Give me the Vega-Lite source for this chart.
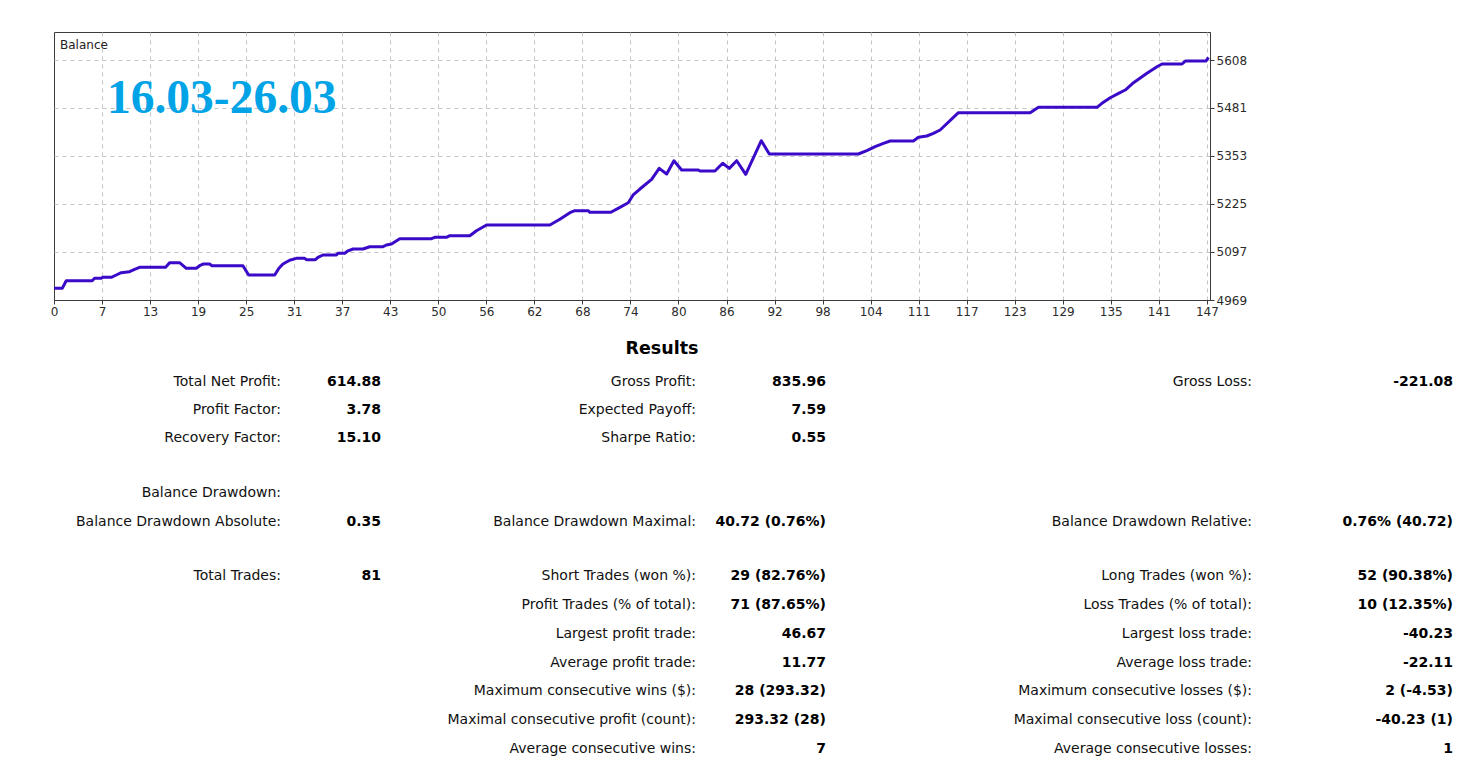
{
  "$schema": "https://vega.github.io/schema/vega-lite/v6.json",
  "width": 1156,
  "height": 268,
  "autosize": {"type": "none"},
  "padding": {"left": 54, "top": 32, "right": 272, "bottom": 484},
  "background": "white",
  "config": {
    "view": {"stroke": "#3c3c3c", "strokeWidth": 1},
    "text": {"font": "DejaVu Sans"}
  },
  "datasets": {
    "balance": [
      {"trade": 0, "balance": 5000}, {"trade": 1.05, "balance": 5000}, {"trade": 1.56, "balance": 5020.4},
      {"trade": 4.87, "balance": 5020.4}, {"trade": 5.17, "balance": 5026.8}, {"trade": 6.02, "balance": 5026.8},
      {"trade": 6.23, "balance": 5029.4}, {"trade": 7.3, "balance": 5029.4}, {"trade": 7.94, "balance": 5035.6},
      {"trade": 8.57, "balance": 5041.7}, {"trade": 9.63, "balance": 5044.3}, {"trade": 10.27, "balance": 5050.7},
      {"trade": 10.91, "balance": 5056.1}, {"trade": 14.23, "balance": 5056.1}, {"trade": 14.74, "balance": 5068.3},
      {"trade": 16.01, "balance": 5068.3}, {"trade": 16.87, "balance": 5053.4}, {"trade": 18.14, "balance": 5053.4},
      {"trade": 18.57, "balance": 5060.3}, {"trade": 19.08, "balance": 5064.9}, {"trade": 19.84, "balance": 5064.9},
      {"trade": 20.14, "balance": 5060.3}, {"trade": 24.09, "balance": 5060.3}, {"trade": 24.82, "balance": 5035.6},
      {"trade": 28.14, "balance": 5035.6}, {"trade": 28.68, "balance": 5053.4}, {"trade": 29.19, "balance": 5064.9},
      {"trade": 30.05, "balance": 5074.7}, {"trade": 30.9, "balance": 5080}, {"trade": 31.96, "balance": 5080},
      {"trade": 32.18, "balance": 5076.3}, {"trade": 33.33, "balance": 5076.3}, {"trade": 33.66, "balance": 5082.7},
      {"trade": 34.3, "balance": 5088.8}, {"trade": 36.01, "balance": 5088.8}, {"trade": 36.21, "balance": 5093.3},
      {"trade": 37.07, "balance": 5093.3}, {"trade": 37.5, "balance": 5100}, {"trade": 38.13, "balance": 5104.8},
      {"trade": 39.4, "balance": 5104.8}, {"trade": 40.26, "balance": 5110.9}, {"trade": 41.96, "balance": 5110.9},
      {"trade": 42.39, "balance": 5115.4}, {"trade": 43.03, "balance": 5118.1}, {"trade": 44.09, "balance": 5132.2},
      {"trade": 48.13, "balance": 5132.2}, {"trade": 48.55, "balance": 5135.9}, {"trade": 50.04, "balance": 5135.9},
      {"trade": 50.47, "balance": 5140.2}, {"trade": 53.02, "balance": 5140.2}, {"trade": 53.87, "balance": 5153.5},
      {"trade": 55.15, "balance": 5168.7}, {"trade": 63.23, "balance": 5168.7}, {"trade": 64.5, "balance": 5183.9},
      {"trade": 65.78, "balance": 5201.4}, {"trade": 66.42, "balance": 5206.8}, {"trade": 68.11, "balance": 5206.8},
      {"trade": 68.33, "balance": 5202.5}, {"trade": 71, "balance": 5202.5}, {"trade": 72.16, "balance": 5215.8},
      {"trade": 73.22, "balance": 5228.1}, {"trade": 73.85, "balance": 5248.6}, {"trade": 74.71, "balance": 5264.5},
      {"trade": 76.2, "balance": 5290.4}, {"trade": 77.17, "balance": 5319.6}, {"trade": 78.12, "balance": 5304.5},
      {"trade": 79.05, "balance": 5339.9}, {"trade": 80.03, "balance": 5315.1}, {"trade": 82.15, "balance": 5315.1},
      {"trade": 82.37, "balance": 5312.5}, {"trade": 84.28, "balance": 5312.5}, {"trade": 85.26, "balance": 5333},
      {"trade": 86.1, "balance": 5319.6}, {"trade": 87.05, "balance": 5339.9}, {"trade": 88.2, "balance": 5303.7},
      {"trade": 90.19, "balance": 5393.1}, {"trade": 91.21, "balance": 5357.7}, {"trade": 102.56, "balance": 5357.7},
      {"trade": 103.64, "balance": 5366.5}, {"trade": 104.7, "balance": 5377.2}, {"trade": 105.76, "balance": 5386.2},
      {"trade": 106.61, "balance": 5392.3}, {"trade": 109.58, "balance": 5392.3}, {"trade": 110.22, "balance": 5402.2},
      {"trade": 111.29, "balance": 5405.7}, {"trade": 112.13, "balance": 5412.8}, {"trade": 112.99, "balance": 5421.6},
      {"trade": 115.32, "balance": 5467.7}, {"trade": 124.47, "balance": 5467.7}, {"trade": 125.53, "balance": 5482.1},
      {"trade": 132.99, "balance": 5482.1}, {"trade": 133.62, "balance": 5492.7}, {"trade": 134.68, "balance": 5507.6},
      {"trade": 135.74, "balance": 5519.3}, {"trade": 136.59, "balance": 5528.1}, {"trade": 137.65, "balance": 5547.6},
      {"trade": 139.36, "balance": 5572.6}, {"trade": 140.64, "balance": 5590.2}, {"trade": 141.28, "balance": 5597.4},
      {"trade": 143.83, "balance": 5597.4}, {"trade": 144.25, "balance": 5605.3}, {"trade": 146.9, "balance": 5605.3},
      {"trade": 147.2, "balance": 5614.9}
    ],
    "stats": [
      {"col": 0, "row": 1, "label": "Total Net Profit:", "value": "614.88"},
      {"col": 0, "row": 2, "label": "Profit Factor:", "value": "3.78"},
      {"col": 0, "row": 3, "label": "Recovery Factor:", "value": "15.10"},
      {"col": 0, "row": 4, "label": "Balance Drawdown:", "value": ""},
      {"col": 0, "row": 5, "label": "Balance Drawdown Absolute:", "value": "0.35"},
      {"col": 0, "row": 6, "label": "Total Trades:", "value": "81"},
      {"col": 1, "row": 1, "label": "Gross Profit:", "value": "835.96"},
      {"col": 1, "row": 2, "label": "Expected Payoff:", "value": "7.59"},
      {"col": 1, "row": 3, "label": "Sharpe Ratio:", "value": "0.55"},
      {"col": 1, "row": 5, "label": "Balance Drawdown Maximal:", "value": "40.72 (0.76%)"},
      {"col": 1, "row": 6, "label": "Short Trades (won %):", "value": "29 (82.76%)"},
      {"col": 1, "row": 7, "label": "Profit Trades (% of total):", "value": "71 (87.65%)"},
      {"col": 1, "row": 8, "label": "Largest profit trade:", "value": "46.67"},
      {"col": 1, "row": 9, "label": "Average profit trade:", "value": "11.77"},
      {"col": 1, "row": 10, "label": "Maximum consecutive wins ($):", "value": "28 (293.32)"},
      {"col": 1, "row": 11, "label": "Maximal consecutive profit (count):", "value": "293.32 (28)"},
      {"col": 1, "row": 12, "label": "Average consecutive wins:", "value": "7"},
      {"col": 2, "row": 1, "label": "Gross Loss:", "value": "-221.08"},
      {"col": 2, "row": 5, "label": "Balance Drawdown Relative:", "value": "0.76% (40.72)"},
      {"col": 2, "row": 6, "label": "Long Trades (won %):", "value": "52 (90.38%)"},
      {"col": 2, "row": 7, "label": "Loss Trades (% of total):", "value": "10 (12.35%)"},
      {"col": 2, "row": 8, "label": "Largest loss trade:", "value": "-40.23"},
      {"col": 2, "row": 9, "label": "Average loss trade:", "value": "-22.11"},
      {"col": 2, "row": 10, "label": "Maximum consecutive losses ($):", "value": "2 (-4.53)"},
      {"col": 2, "row": 11, "label": "Maximal consecutive loss (count):", "value": "-40.23 (1)"},
      {"col": 2, "row": 12, "label": "Average consecutive losses:", "value": "1"}
    ]
  },
  "resolve": {
    "scale": {"x": "independent", "y": "independent"},
    "axis": {"x": "independent", "y": "independent"}
  },
  "layer": [
    {
      "data": {"name": "balance"},
      "mark": {"type": "line", "color": "#3a0ac8", "strokeWidth": 3, "strokeJoin": "round"},
      "encoding": {
        "x": {
          "field": "trade", "type": "quantitative",
          "scale": {"domain": [0, 147.4], "nice": false, "zero": false},
          "axis": {
            "title": null,
            "values": [0, 6.125, 12.25, 18.375, 24.5, 30.625, 36.75, 42.875, 49, 55.125, 61.25, 67.375, 73.5, 79.625, 85.75, 91.875, 98, 104.125, 110.25, 116.375, 122.5, 128.625, 134.75, 140.875, 147],
            "labelExpr": "[0,7,13,19,25,31,37,43,50,56,62,68,74,80,86,92,98,104,111,117,123,129,135,141,147][round(datum.value/6.125)]",
            "grid": true, "gridDash": [4, 4], "gridColor": "#c4c4c4", "gridWidth": 1,
            "gridOpacity": {"condition": {"test": "datum.value === 0", "value": 0}, "value": 1},
            "domain": true, "domainColor": "#3c3c3c", "ticks": true, "tickColor": "#3c3c3c", "tickSize": 4,
            "labelFont": "DejaVu Sans", "labelFontSize": 12, "labelColor": "#2b2b2b",
            "labelPadding": 2, "labelFlush": false, "labelOverlap": false
          }
        },
        "y": {
          "field": "balance", "type": "quantitative",
          "scale": {"domain": [4969, 5682.6], "nice": false, "zero": false},
          "axis": {
            "title": null, "orient": "right",
            "values": [4969, 5097, 5225, 5353, 5481, 5608], "format": "d",
            "grid": true, "gridDash": [4, 4], "gridColor": "#c4c4c4", "gridWidth": 1,
            "gridOpacity": {"condition": {"test": "datum.value === 4969", "value": 0}, "value": 1},
            "domain": true, "domainColor": "#3c3c3c", "ticks": true, "tickColor": "#3c3c3c", "tickSize": 4,
            "labelFont": "DejaVu Sans", "labelFontSize": 12, "labelColor": "#2b2b2b",
            "labelPadding": 2, "labelOverlap": false
          }
        }
      }
    },
    {
      "data": {"values": [{"note": "Balance", "trade": 0.77, "balance": 5648}]},
      "mark": {"type": "text", "font": "DejaVu Sans", "fontSize": 12, "align": "left", "baseline": "middle", "color": "#222222"},
      "encoding": {
        "x": {"field": "trade", "type": "quantitative", "scale": {"domain": [0, 147.4], "nice": false, "zero": false}, "axis": null},
        "y": {"field": "balance", "type": "quantitative", "scale": {"domain": [4969, 5682.6], "nice": false, "zero": false}, "axis": null},
        "text": {"field": "note"}
      }
    },
    {
      "data": {"values": [{"note": "16.03-26.03", "trade": 6.75, "balance": 5465.6}]},
      "mark": {"type": "text", "font": "Liberation Serif", "fontWeight": "bold", "fontSize": 47.5, "align": "left", "baseline": "alphabetic", "color": "#00a3e6"},
      "encoding": {
        "x": {"field": "trade", "type": "quantitative", "scale": {"domain": [0, 147.4], "nice": false, "zero": false}, "axis": null},
        "y": {"field": "balance", "type": "quantitative", "scale": {"domain": [4969, 5682.6], "nice": false, "zero": false}, "axis": null},
        "text": {"field": "note"}
      }
    },
    {
      "data": {"values": [{"text": "Results", "col": 1, "row": 0}]},
      "mark": {"type": "text", "font": "DejaVu Sans", "fontWeight": "bold", "fontSize": 17.5, "align": "center", "baseline": "middle", "color": "#000000"},
      "encoding": {
        "x": {"field": "col", "type": "quantitative", "scale": {"domain": [0, 1, 2], "range": [227, 608, 1198], "nice": false, "zero": false}, "axis": null},
        "y": {"field": "row", "type": "quantitative", "scale": {"domain": [0, 1, 3, 4, 5, 6, 12], "range": [317.3, 349.7, 406.3, 460.7, 489.7, 543.7, 717.3], "nice": false, "zero": false}, "axis": null},
        "text": {"field": "text"}
      }
    },
    {
      "data": {"name": "stats"},
      "mark": {"type": "text", "font": "DejaVu Sans", "fontSize": 14, "align": "right", "baseline": "middle", "color": "#111111"},
      "encoding": {
        "x": {"field": "col", "type": "quantitative", "scale": {"domain": [0, 1, 2], "range": [227, 642, 1198], "nice": false, "zero": false}, "axis": null},
        "y": {"field": "row", "type": "quantitative", "scale": {"domain": [0, 1, 3, 4, 5, 6, 12], "range": [317.3, 349.7, 406.3, 460.7, 489.7, 543.7, 717.3], "nice": false, "zero": false}, "axis": null},
        "text": {"field": "label"}
      }
    },
    {
      "data": {"name": "stats"},
      "mark": {"type": "text", "font": "DejaVu Sans", "fontWeight": "bold", "fontSize": 14, "align": "right", "baseline": "middle", "color": "#000000"},
      "encoding": {
        "x": {"field": "col", "type": "quantitative", "scale": {"domain": [0, 1, 2], "range": [327, 772, 1399], "nice": false, "zero": false}, "axis": null},
        "y": {"field": "row", "type": "quantitative", "scale": {"domain": [0, 1, 3, 4, 5, 6, 12], "range": [317.3, 349.7, 406.3, 460.7, 489.7, 543.7, 717.3], "nice": false, "zero": false}, "axis": null},
        "text": {"field": "value"}
      }
    }
  ]
}
